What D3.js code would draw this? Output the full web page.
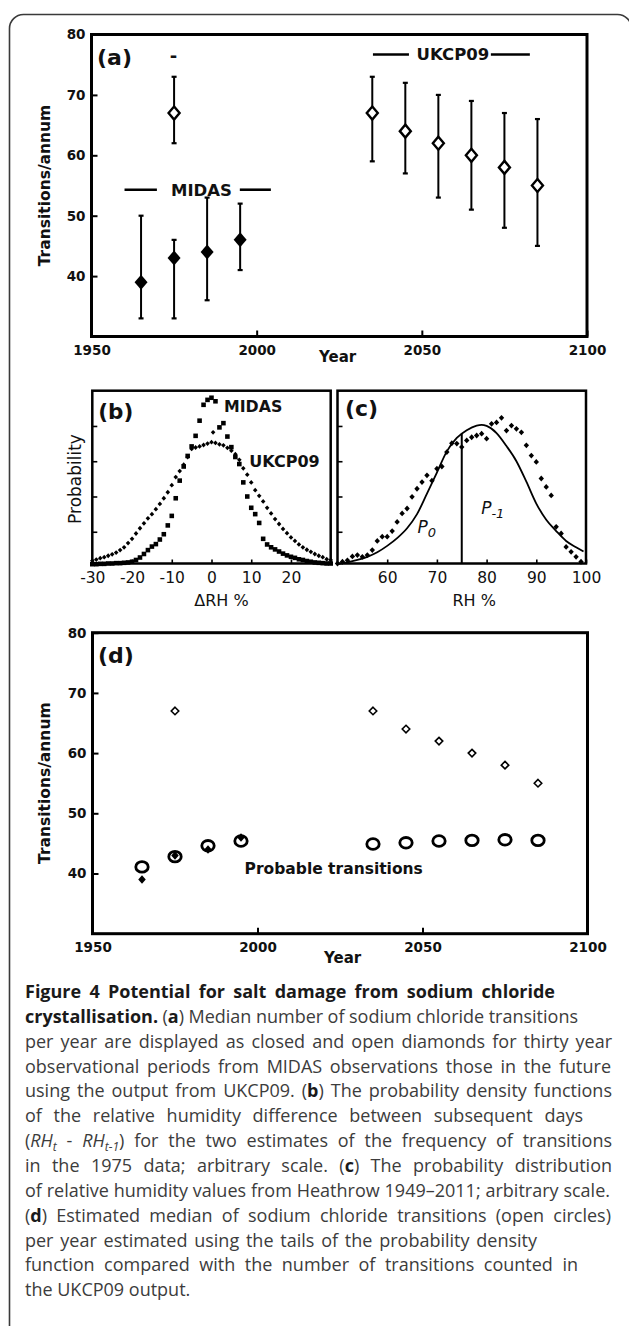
<!DOCTYPE html>
<html>
<head>
<meta charset="utf-8">
<script src="https://cdn.jsdelivr.net/npm/d3@7"></script>
<style>
body { margin: 0; background: #fff; }
svg { display: block; }
</style>
</head>
<body>
<svg id="fig" width="629" height="1326"></svg>
<script>
// ---- panel (a) and (d): medians and ranges per 30 year period
var midasYears = [1965, 1975, 1985, 1995];
var midasMedian = [39, 43, 44, 46];
var midasHigh = [50, 46, 53, 52];
var midasLow = [33, 33, 36, 41];

var ukcpYears = [1975, 2035, 2045, 2055, 2065, 2075, 2085];
var ukcpMedian = [67, 67, 64, 62, 60, 58, 55];
var ukcpHigh = [73, 73, 72, 70, 69, 67, 66];
var ukcpLow = [62, 59, 57, 53, 51, 48, 45];

// panel (d) open circles
var probYears = [1965, 1975, 1985, 1995, 2035, 2045, 2055, 2065, 2075, 2085];
var probable = [41.1, 42.8, 44.6, 45.4, 44.9, 45.1, 45.4, 45.5, 45.6, 45.5];

var yearTicks = [1950, 2000, 2050, 2100];
var transTicks = [40, 50, 60, 70, 80];

// bracket lines round the series names in (a), in years
var midasSpan = [1960, 1969.8, 1994.9, 2004.3];
var ukcpSpan = [2035.2, 2046.1, 2070.9, 2082.7];

// ---- panel (b): pdf of day to day RH change
var drhX = [-30, -29, -28, -27, -26, -25, -24, -23, -22, -21, -20, -19, -18, -17, -16, -15, -14, -13, -12, -11,
    -10, -9, -8, -7, -6, -5, -4, -3, -2, -1, 0, 1, 2, 3, 4, 5, 6, 7, 8, 9,
    10, 11, 12, 13, 14, 15, 16, 17, 18, 19, 20, 21, 22, 23, 24, 25, 26, 27, 28, 29, 30];
var midasPdf = [0.08, 0.08, 0.09, 0.09, 0.1, 0.1, 0.11, 0.11, 0.12, 0.13, 0.15, 0.2, 0.27, 0.37, 0.48, 0.58, 0.65, 0.78, 0.93, 1.18,
    1.45, 1.95, 2.45, 2.85, 3.15, 3.42, 3.72, 4.15, 4.6, 4.74, 4.8, 4.7, 3.96, 4.08, 3.7, 3.4, 3.12, 2.92, 2.4, 2.0,
    1.68, 1.5, 1.25, 0.8, 0.64, 0.56, 0.5, 0.44, 0.38, 0.33, 0.29, 0.26, 0.22, 0.2, 0.17, 0.15, 0.13, 0.12, 0.11, 0.1, 0.1];
var ukcpX = [-30, -29, -28, -27, -26, -25, -24, -23, -22, -21, -20, -19, -18, -17, -16, -15, -14, -13, -12, -11,
    -10, -9, -8, -7, -6, -5, -4, -3, -2, -1, 0, 0.4, 1, 2, 3, 4, 5, 6, 7, 8, 9,
    10, 11, 12, 13, 14, 15, 16, 17, 18, 19, 20, 21, 22, 23, 24, 25, 26, 27, 28, 29, 30];
var ukcpPdf = [0.18, 0.21, 0.25, 0.28, 0.32, 0.36, 0.41, 0.48, 0.56, 0.68, 0.8, 0.95, 1.1, 1.24, 1.38, 1.5, 1.64, 1.79, 1.95, 2.12,
    2.32, 2.55, 2.72, 2.9, 3.12, 3.35, 3.39, 3.42, 3.46, 3.5, 3.54, 3.82, 3.52, 3.48, 3.45, 3.38, 3.3, 3.2, 3.04, 2.8, 2.62,
    2.4, 2.18, 2.02, 1.86, 1.68, 1.52, 1.36, 1.22, 1.08, 0.96, 0.84, 0.74, 0.64, 0.56, 0.49, 0.43, 0.37, 0.32, 0.28, 0.22, 0.2];
var drhTicks = [-30, -20, -10, 0, 10, 20];
var probTicks = [1, 2, 3, 4];

// ---- panel (c): distribution of RH at Heathrow
var rhX = [50, 51, 52, 53, 54, 55, 56, 57, 58, 59, 60, 61, 62, 63, 64, 65, 66, 67, 68, 69,
    70, 71, 72, 73, 74, 75, 76, 77, 78, 79, 80, 81, 82, 83, 84, 85, 86, 87, 88, 89,
    90, 91, 92, 93, 94, 95, 96, 97, 98, 99];
var rhObs = [0.1, 0.15, 0.19, 0.3, 0.34, 0.29, 0.34, 0.48, 0.74, 0.86, 0.86, 1.02, 1.28, 1.52, 1.66, 1.99, 2.22, 2.41, 2.6, 2.45,
    2.79, 2.85, 3.26, 3.51, 3.5, 3.4, 3.59, 3.68, 3.73, 3.78, 3.64, 4.06, 4.1, 4.23, 3.87, 4.01, 3.92, 3.82, 3.45, 3.16,
    2.98, 2.51, 2.27, 2.03, 1.14, 0.95, 0.57, 0.43, 0.29, 0.15];
var fitX = [50, 52, 54, 56, 58, 60, 62, 64, 66, 68, 70, 72, 74, 76, 78, 79, 80, 82, 84, 86, 88, 90, 92, 94, 96, 98, 99.5];
var fitY = [0.08, 0.13, 0.2, 0.29, 0.42, 0.6, 0.82, 1.1, 1.5, 2.08, 2.68, 3.28, 3.66, 3.88, 4.01, 4.03, 4.0, 3.8, 3.43, 3.0, 2.42, 1.8, 1.34, 1.02, 0.74, 0.56, 0.44];
var rhThreshold = 75;
var rhThresholdTop = 3.78;
var rhTicks = [60, 70, 80, 90, 100];

// ---- caption
var captionLines = [
    [["b", "Figure 4 Potential for salt damage from sodium chloride"]],
    [["b", "crystallisation."], ["r", " ("], ["b", "a"], ["r", ") Median number of sodium chloride transitions"]],
    [["r", "per year are displayed as closed and open diamonds for thirty year"]],
    [["r", "observational periods from MIDAS observations those in the future"]],
    [["r", "using the output from UKCP09. ("], ["b", "b"], ["r", ") The probability density functions"]],
    [["r", "of the relative humidity difference between subsequent days"]],
    [["r", "("], ["i", "RH"], ["sub", "t"], ["r", " - "], ["i", "RH"], ["sub", "t-1"], ["r", ") for the two estimates of the frequency of transitions"]],
    [["r", "in the 1975 data; arbitrary scale. ("], ["b", "c"], ["r", ") The probability distribution"]],
    [["r", "of relative humidity values from Heathrow 1949\u20132011; arbitrary scale."]],
    [["r", "("], ["b", "d"], ["r", ") Estimated median of sodium chloride transitions (open circles)"]],
    [["r", "per year estimated using the tails of the probability density"]],
    [["r", "function compared with the number of transitions counted in"]],
    [["r", "the UKCP09 output."]]
];
var captionRight = [555, 578, 612, 611, 612, 583, 612, 612, 610, 611, 537, 578, null];

var svg = d3.select("#fig");
var FONT = "DejaVu Sans";

// outer rounded frame
svg.append("rect")
    .attr("x", 9.5).attr("y", 14.5)
    .attr("width", 622).attr("height", 1400)
    .attr("rx", 14)
    .attr("fill", "none").attr("stroke", "#3a3a3a").attr("stroke-width", 1.6);

function diamond(w, h) {
    return "M0," + (-h / 2) + "L" + (w / 2) + ",0L0," + (h / 2) + "L" + (-w / 2) + ",0Z";
}

// plain hyphen for negatives, as in the figure
function plain(d) { return String(d); }

function styleAxis(g, size, weight, tickW) {
    g.select(".domain").remove();
    g.selectAll("line").attr("stroke", "#000").attr("stroke-width", tickW);
    g.selectAll("text")
        .attr("fill", "#111")
        .style("font-family", FONT)
        .style("font-size", size + "px")
        .style("font-weight", weight);
}

function box(g, x, y, sw) {
    g.append("rect")
        .attr("x", x.range()[0]).attr("y", y.range()[1])
        .attr("width", x.range()[1] - x.range()[0])
        .attr("height", y.range()[0] - y.range()[1])
        .attr("fill", "none").attr("stroke", "#000").attr("stroke-width", sw);
}

function label(g, txt, x, y, size, weight, anchor) {
    return g.append("text")
        .attr("x", x).attr("y", y)
        .attr("text-anchor", anchor || "start")
        .attr("fill", "#111")
        .style("font-family", FONT)
        .style("font-size", size + "px")
        .style("font-weight", weight)
        .text(txt);
}

// year panel frame, axes and titles (a and d share the layout)
function yearPanel(g, x, y, name, yearX, yearBase) {
    g.append("g")
        .attr("transform", "translate(0," + y.range()[0] + ")")
        .call(d3.axisBottom(x).tickValues(yearTicks).tickSizeInner(-6).tickSizeOuter(0)
            .tickPadding(8.5).tickFormat(plain))
        .call(styleAxis, 13.5, "bold", 2);
    g.append("g")
        .attr("transform", "translate(" + x.range()[0] + ",0)")
        .call(d3.axisLeft(y).tickValues(transTicks).tickSizeInner(-6).tickSizeOuter(0).tickPadding(6))
        .call(styleAxis, 13.5, "bold", 2);
    box(g, x, y, 3);
    label(g, name, x.range()[0] + 5.5, y.range()[1] + 30.5, 22, "bold");
    label(g, "Year", x(yearX), yearBase, 15, "bold", "middle");
    var cy = (y.range()[0] + y.range()[1]) / 2;
    label(g, "Transitions/annum", 0, 0, 15.5, "bold", "middle")
        .attr("transform", "translate(50," + cy + ") rotate(-90)");
}

// ================= (a)
var ax = d3.scaleLinear().domain([1950, 2100]).range([91.5, 587]);
var ay = d3.scaleLinear().domain([30, 80]).range([336.5, 34.5]);
var gA = svg.append("g");
yearPanel(gA, ax, ay, "(a)", 2024.5, 362);

function errorBars(g, years, lo, hi, x, y) {
    var bars = g.append("g").selectAll("g").data(years).enter().append("g");
    bars.append("line")
        .attr("x1", function (d) { return x(d); }).attr("x2", function (d) { return x(d); })
        .attr("y1", function (d, i) { return y(lo[i]); })
        .attr("y2", function (d, i) { return y(hi[i]); })
        .attr("stroke", "#000").attr("stroke-width", 2);
    [lo, hi].forEach(function (arr) {
        bars.append("line")
            .attr("x1", function (d) { return x(d) - 2.5; }).attr("x2", function (d) { return x(d) + 2.5; })
            .attr("y1", function (d, i) { return y(arr[i]); })
            .attr("y2", function (d, i) { return y(arr[i]); })
            .attr("stroke", "#000").attr("stroke-width", 2.2);
    });
}
errorBars(gA, midasYears, midasLow, midasHigh, ax, ay);
errorBars(gA, ukcpYears, ukcpLow, ukcpHigh, ax, ay);

gA.selectAll(".midasA").data(midasYears).enter().append("path")
    .attr("d", diamond(13, 15))
    .attr("transform", function (d, i) { return "translate(" + ax(d) + "," + ay(midasMedian[i]) + ")"; })
    .attr("fill", "#000");
gA.selectAll(".ukcpA").data(ukcpYears).enter().append("path")
    .attr("d", diamond(11, 13))
    .attr("transform", function (d, i) { return "translate(" + ax(d) + "," + ay(ukcpMedian[i]) + ")"; })
    .attr("fill", "#fff").attr("stroke", "#000").attr("stroke-width", 2.4);

// series names with bracket lines
function bracket(g, span, val) {
    [[span[0], span[1]], [span[2], span[3]]].forEach(function (s) {
        g.append("line")
            .attr("x1", ax(s[0])).attr("x2", ax(s[1]))
            .attr("y1", ay(val)).attr("y2", ay(val))
            .attr("stroke", "#000").attr("stroke-width", 2.6);
    });
}
bracket(gA, midasSpan, 54.3);
bracket(gA, ukcpSpan, 76.7);
label(gA, "MIDAS", ax(1983.3), ay(53.3), 16.5, "bold", "middle");
label(gA, "UKCP09", ax(2059.4), ay(75.8), 16.5, "bold", "middle");
label(gA, "-", ax(1974.8), ay(75.5), 18, "bold", "middle");

// ================= (b)
var by = d3.scaleLinear().domain([0.1, 5.0]).range([563.5, 390.7]);
var bx = d3.scaleLinear().domain([-30, 30]).range([92.3, 330.7]);
var gB = svg.append("g");
gB.append("g")
    .attr("transform", "translate(0," + by.range()[0] + ")")
    .call(d3.axisBottom(bx).tickValues(drhTicks).tickSizeInner(-4).tickSizeOuter(0).tickPadding(8.5).tickFormat(plain))
    .call(styleAxis, 15.5, "normal", 1.6);
gB.append("g")
    .attr("transform", "translate(" + bx.range()[0] + ",0)")
    .call(d3.axisLeft(by).tickValues(probTicks).tickSizeInner(-5).tickSizeOuter(0).tickFormat(""))
    .call(styleAxis, 12, "normal", 1.6);

gB.selectAll(".ukcpB").data(ukcpX).enter().append("path")
    .attr("d", diamond(4.6, 4.8))
    .attr("transform", function (d, i) { return "translate(" + bx(d) + "," + by(ukcpPdf[i]) + ")"; })
    .attr("fill", "#000");
gB.selectAll(".midasB").data(drhX).enter().append("path")
    .attr("d", d3.symbol().type(d3.symbolSquare).size(21))
    .attr("transform", function (d, i) { return "translate(" + bx(d) + "," + by(midasPdf[i]) + ")"; })
    .attr("fill", "#000");
box(gB, bx, by, 2.5);
label(gB, "(b)", bx.range()[0] + 6, by.range()[1] + 28, 21.5, "bold");
label(gB, "MIDAS", bx(3.15), by(4.39), 15.8, "bold");
label(gB, "UKCP09", bx(9.5), by(2.83), 16, "bold");
label(gB, "\u0394RH %", bx(2.5), 606, 16, "normal", "middle");
label(gB, "Probability", 0, 0, 17, "normal", "middle")
    .attr("transform", "translate(81,479) rotate(-90)");

// ================= (c)
var cx = d3.scaleLinear().domain([50, 100]).range([337.5, 586]);
var gC = svg.append("g");
gC.append("g")
    .attr("transform", "translate(0," + by.range()[0] + ")")
    .call(d3.axisBottom(cx).tickValues(rhTicks).tickSizeInner(-4).tickSizeOuter(0).tickPadding(8.5).tickFormat(plain))
    .call(styleAxis, 15.5, "normal", 1.6);
gC.append("g")
    .attr("transform", "translate(" + cx.range()[0] + ",0)")
    .call(d3.axisLeft(by).tickValues(probTicks).tickSizeInner(-5).tickSizeOuter(0).tickFormat(""))
    .call(styleAxis, 12, "normal", 1.6);

var fitLine = d3.line()
    .x(function (d, i) { return cx(fitX[i]); })
    .y(function (d, i) { return by(fitY[i]); })
    .curve(d3.curveMonotoneX);
gC.append("path")
    .datum(fitX)
    .attr("d", fitLine)
    .attr("fill", "none").attr("stroke", "#000").attr("stroke-width", 1.8);
gC.append("line")
    .attr("x1", cx(rhThreshold)).attr("x2", cx(rhThreshold))
    .attr("y1", by(0.1)).attr("y2", by(rhThresholdTop))
    .attr("stroke", "#000").attr("stroke-width", 2);
gC.selectAll(".obsC").data(rhX).enter().append("path")
    .attr("d", diamond(5.4, 5.8))
    .attr("transform", function (d, i) { return "translate(" + cx(d) + "," + by(rhObs[i]) + ")"; })
    .attr("fill", "#000");
box(gC, cx, by, 2.5);
label(gC, "(c)", cx.range()[0] + 7.5, by.range()[1] + 25, 22, "bold");
label(gC, "RH %", cx(77.5), 606, 16, "normal", "middle");

function pLabel(g, sub, x, y) {
    var t = g.append("text")
        .attr("x", x).attr("y", y)
        .attr("fill", "#111")
        .style("font-family", FONT).style("font-style", "italic").style("font-size", "17px");
    t.append("tspan").text("P");
    t.append("tspan").attr("dy", 4).style("font-size", "13px").text(sub);
}
pLabel(gC, "0", cx(66.1), by(0.96));
pLabel(gC, "-1", cx(78.9), by(1.5));

// ================= (d)
var dx = d3.scaleLinear().domain([1950, 2100]).range([92.5, 587.5]);
var dy = d3.scaleLinear().domain([30, 80]).range([933.7, 632.7]);
var gD = svg.append("g");
yearPanel(gD, dx, dy, "(d)", 2025.8, 963);

gD.selectAll(".ukcpD").data(ukcpYears).enter().append("path")
    .attr("d", diamond(7.5, 7.5))
    .attr("transform", function (d, i) { return "translate(" + dx(d) + "," + dy(ukcpMedian[i]) + ")"; })
    .attr("fill", "#fff").attr("stroke", "#000").attr("stroke-width", 1.6);
gD.selectAll(".midasD").data(midasYears).enter().append("path")
    .attr("d", diamond(7.5, 8.5))
    .attr("transform", function (d, i) { return "translate(" + dx(d) + "," + dy(midasMedian[i]) + ")"; })
    .attr("fill", "#000");
gD.selectAll(".probD").data(probYears).enter().append("ellipse")
    .attr("cx", function (d) { return dx(d); })
    .attr("cy", function (d, i) { return dy(probable[i]); })
    .attr("rx", 6.2).attr("ry", 5.3)
    .attr("fill", "none").attr("stroke", "#000").attr("stroke-width", 2.8);
label(gD, "Probable transitions", dx(2023.1), dy(40.0), 15.5, "bold", "middle");

// ================= caption
var cap = svg.append("g");
captionLines.forEach(function (line, i) {
    var t = cap.append("text")
        .attr("x", 25).attr("y", 998 + i * 24.85)
        .attr("fill", "#3c3c3c")
        .style("font-family", "'Open Sans'")
        .style("font-size", "18px")
        .style("white-space", "pre");
    var shift = 0, full = "";
    line.forEach(function (seg) {
        var s = t.append("tspan").text(seg[1]);
        full += seg[1];
        var want = seg[0] == "sub" ? 4 : 0;
        if (want != shift) { s.attr("dy", want - shift); shift = want; }
        if (seg[0] == "b") s.style("font-weight", "bold").attr("fill", "#1a1a1a");
        if (seg[0] == "i") s.style("font-style", "italic");
        if (seg[0] == "sub") s.style("font-style", "italic").style("font-size", "12px");
    });
    if (captionRight[i]) {
        var nat = t.node().getComputedTextLength();
        var spaces = (full.match(/ /g) || []).length;
        t.style("word-spacing", ((captionRight[i] - 25 - nat) / spaces) + "px");
    }
});
</script>
</body>
</html>
